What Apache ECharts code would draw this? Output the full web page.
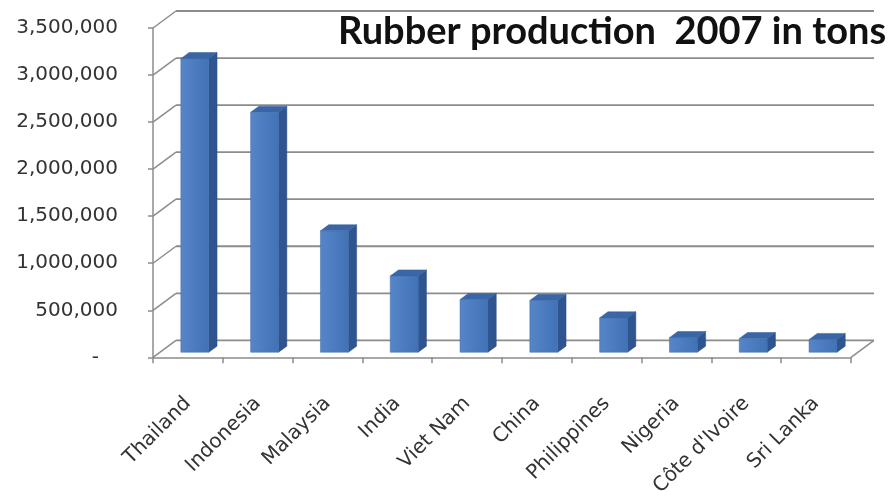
<!DOCTYPE html>
<html>
<head>
<meta charset="utf-8">
<script src="https://cdn.jsdelivr.net/npm/echarts@6/dist/echarts.min.js"></script>
<style>
  html, body { margin: 0; padding: 0; background: #ffffff; }
  #chart { width: 895px; height: 499px; }
</style>
</head>
<body>
<div id="chart"></div>
<script>
const chartTitle = 'Rubber production  2007 in tons';
const categories = ['Thailand', 'Indonesia', 'Malaysia', 'India', 'Viet Nam', 'China', 'Philippines', 'Nigeria', "Côte d'Ivoire", 'Sri Lanka'];
const production = [3120000, 2550000, 1290000, 810000, 560000, 550000, 365000, 155000, 145000, 135000];
const yTicks = [0, 500000, 1000000, 1500000, 2000000, 2500000, 3000000, 3500000];

// oblique projection of the 3D box (depth vector)
const DX = 23, DY = -17;
const F1 = 0.3, F2 = 0.66;
const GRID_COLOR = '#8c8c8c';

function fmt(v) {
  if (v === 0) return '-   ';
  return String(v).replace(/\B(?=(\d{3})+(?!\d))/g, ',');
}

const chart = echarts.init(document.getElementById('chart'));
chart.setOption({
  animation: false,
  backgroundColor: '#ffffff',
  title: {
    text: chartTitle,
    left: 333,
    top: 8,
    textStyle: { fontFamily: 'Lato', fontWeight: 'bold', fontSize: 38, color: '#111111' }
  },
  grid: { left: 153, right: 44, top: 28, bottom: 137 },
  xAxis: {
    type: 'category',
    data: categories,
    axisLine: { lineStyle: { color: GRID_COLOR, width: 1.5 } },
    axisTick: { show: true, length: 6, lineStyle: { color: GRID_COLOR, width: 1.5 } },
    axisLabel: {
      rotate: 45, margin: 43, interval: 0,
      fontFamily: 'DejaVu Sans', fontSize: 20, color: '#333333'
    }
  },
  yAxis: {
    type: 'value',
    min: 0, max: 3500000, interval: 500000,
    splitLine: { show: false },
    axisLine: { show: true, lineStyle: { color: GRID_COLOR, width: 1.5 } },
    axisTick: { show: true, length: 5, lineStyle: { color: GRID_COLOR, width: 1.5 } },
    axisLabel: {
      margin: 35, formatter: fmt, padding: [6, 0, 0, 0],
      fontFamily: 'DejaVu Sans', fontSize: 20, color: '#333333'
    }
  },
  series: [
    {
      type: 'custom',
      name: 'walls',
      z: 1,
      silent: true,
      data: yTicks.map(v => [0, v]),
      renderItem: function (params, api) {
        const v = api.value(1);
        const p = api.coord([0, v]);
        const bw = api.size([1, 0])[0];
        const xl = p[0] - bw / 2;
        const xr = xl + bw * categories.length;
        const y = p[1];
        const children = [
          { type: 'line', shape: { x1: xl, y1: y, x2: xl + DX, y2: y + DY },
            style: { stroke: GRID_COLOR, lineWidth: 1.5 } },
          { type: 'line', shape: { x1: xl + DX, y1: y + DY, x2: xr + DX, y2: y + DY },
            style: { stroke: GRID_COLOR, lineWidth: 1.8 } }
        ];
        if (v === 0) {
          children.push({ type: 'line', shape: { x1: xr, y1: y, x2: xr + DX, y2: y + DY },
            style: { stroke: GRID_COLOR, lineWidth: 1.5 } });
        }
        return { type: 'group', children: children };
      }
    },
    {
      type: 'custom',
      name: 'Production',
      z: 3,
      data: production.map((v, i) => [i, v]),
      encode: { x: 0, y: 1 },
      renderItem: function (params, api) {
        const idx = api.value(0);
        const val = api.value(1);
        const b = api.coord([idx, 0]);
        const t = api.coord([idx, val]);
        const bw = api.size([1, 0])[0];
        const w = bw * 0.4;
        const xl = b[0] - w / 2, xr = b[0] + w / 2;
        const yb = b[1], yt = t[1];
        const ax = F1 * DX, ay = F1 * DY, bx = F2 * DX, by = F2 * DY;
        return {
          type: 'group',
          children: [
            { type: 'polygon',
              shape: { points: [[xr + ax, yt + ay], [xr + bx, yt + by], [xr + bx, yb + by], [xr + ax, yb + ay]] },
              style: { fill: '#2e5590', stroke: '#2a4f86', lineWidth: 0.5 } },
            { type: 'polygon',
              shape: { points: [[xl + ax, yt + ay], [xr + ax, yt + ay], [xr + bx, yt + by], [xl + bx, yt + by]] },
              style: { fill: '#3a66a6', stroke: '#335e9c', lineWidth: 0.5 } },
            { type: 'rect',
              shape: { x: xl + ax, y: yt + ay, width: w, height: yb - yt },
              style: {
                fill: new echarts.graphic.LinearGradient(0, 0, 1, 0, [
                  { offset: 0, color: '#5686c8' },
                  { offset: 1, color: '#4272b6' }
                ]),
                stroke: '#3c6aab', lineWidth: 0.5
              } }
          ]
        };
      }
    }
  ]
});
</script>
</body>
</html>
